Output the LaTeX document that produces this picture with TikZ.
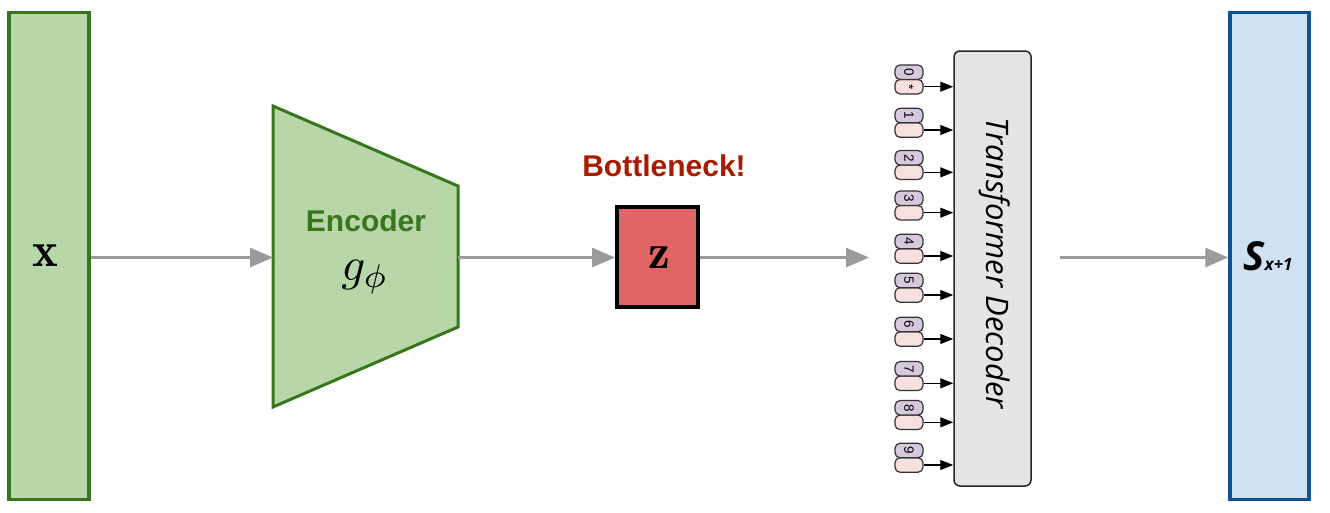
\documentclass[tikz,border=0pt]{standalone}
\usepackage{graphicx}
\usepackage{fontspec}
\usetikzlibrary{arrows.meta}
\newfontfamily\libsans{Liberation Sans}
\newfontfamily\opensans{Open Sans}
\definecolor{encfill}{HTML}{B7D7A8}
\definecolor{encline}{HTML}{38761D}
\definecolor{zfill}{HTML}{E06666}
\definecolor{bneck}{HTML}{A61C00}
\definecolor{sfill}{HTML}{CFE2F3}
\definecolor{sline}{HTML}{0B5394}
\definecolor{arrgray}{HTML}{9B9B9B}
\definecolor{decfill}{HTML}{E5E5E5}
\definecolor{tokpurple}{HTML}{D7C9DD}
\definecolor{tokpink}{HTML}{F8E0E0}
\begin{document}
\begin{tikzpicture}[x=1pt,y=-1pt,
  greenbox/.style={draw=encline,fill=encfill,line width=3.5pt,minimum width=80pt,minimum height=487pt,inner sep=0pt},
  bluebox/.style={draw=sline,fill=sfill,line width=3.5pt,minimum width=79pt,minimum height=487pt,inner sep=0pt},
  zboxstyle/.style={draw=black,fill=zfill,line width=4pt,minimum width=81pt,minimum height=100pt,inner sep=0pt},
  garrow/.style={draw=arrgray,line width=3pt,-{Triangle[length=23pt,width=19pt]}},
  tokarrow/.style={draw=black,line width=1.3pt,-{Triangle[length=13pt,width=10pt]}},
  tokbox/.style={draw=black!80,line width=1.2pt,rounded corners=5pt,minimum width=28pt,minimum height=14.5pt,inner sep=0pt},
  toptok/.style={tokbox,fill=tokpurple},
  bottok/.style={tokbox,fill=tokpink},
  digit/.style={rotate=-90,inner sep=0pt,font=\fontsize{13.5}{13.5}\libsans},
  decbox/.style={draw=black!85,fill=decfill,line width=1.5pt,rounded corners=6pt,minimum width=77pt,minimum height=435pt,inner sep=0pt}
]
\useasboundingbox (0,0) rectangle (1330,512);

% input box
\node[greenbox] (xbox) at (49,256) {};
\node[anchor=base,inner sep=0pt] (xlab) at (45,266.7) {\scalebox{4.9}{$\mathbf{x}$}};

% encoder
\draw[draw=encline,fill=encfill,line width=3pt,line join=miter]
  (273,106) -- (458,186) -- (458,327) -- (273,407) -- cycle;
\coordinate (encL) at (273,257.5);
\coordinate (encR) at (458,257.5);
\node[anchor=base,inner sep=0pt,text=encline] (enclab) at (366,231.5)
  {\fontsize{30}{32}\libsans\bfseries Encoder};
\node[anchor=base,inner sep=0pt] (glab) at (365,280)
  {\scalebox{4.7}{$g_{\phi}$}};

% z box
\node[zboxstyle] (zbox) at (657.5,256.7) {};
\node[anchor=base,inner sep=0pt] (zlab) at (659,268) {\scalebox{4.9}{$\mathbf{z}$}};
\node[anchor=base,inner sep=0pt,text=bneck] (blab) at (664,176)
  {\fontsize{30}{32}\libsans\bfseries Bottleneck!};

% decoder
\node[decbox] (dec) at (992.5,268.5) {};
\node[rotate=-90,inner sep=0pt] (declab) at (995,263)
  {\fontsize{31}{34}\opensans\itshape Transformer Decoder};

\foreach \i/\yy in {0/86.7,1/130,2/172.3,3/212.7,4/256,5/295,6/339,7/383.3,8/422.3,9/465}{
  \node[bottok] (b\i) at (909,\yy) {};
  \node[toptok] (t\i) at (909,\yy-14.5) {};
  \node[digit] (d\i) at (t\i) {\i};
  \draw[tokarrow] (b\i.east) -- (b\i.east -| dec.west);
}
\node[digit] (star) at (b0) {*};

% output box
\node[bluebox] (sbox) at (1269.5,256) {};
\node[anchor=base,inner sep=0pt] (slab) at (1268,270)
  {\opensans\bfseries\itshape{\fontsize{40}{42}\selectfont S}{\fontsize{17}{18}\selectfont x+1}};

% connectors
\coordinate (decin) at (869,257.5);
\coordinate (decout) at (1060,257.5);
\draw[garrow] (xbox.east |- encL) -- (encL);
\draw[garrow] (encR) -- (zbox.west |- encR);
\draw[garrow] (zbox.east |- encR) -- (decin);
\draw[garrow] (decout) -- (sbox.west |- decout);
\end{tikzpicture}
\end{document}
